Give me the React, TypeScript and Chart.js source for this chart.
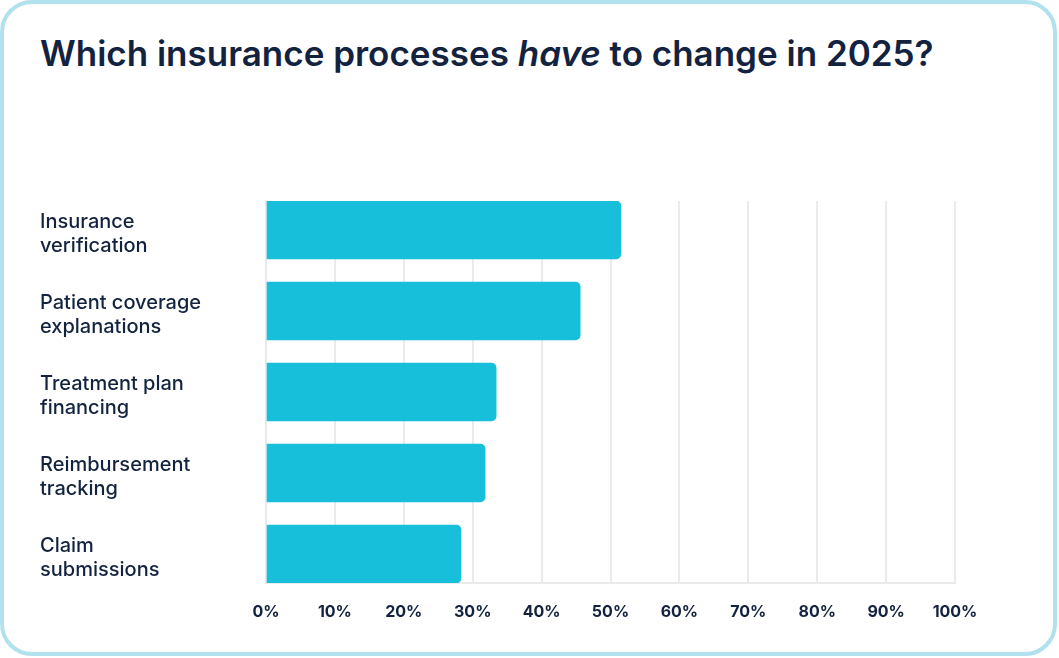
import React, { useEffect, useRef } from "react";
import { Chart, registerables } from "chart.js";

Chart.register(...registerables);

const categories = [
  "Insurance\nverification",
  "Patient coverage\nexplanations",
  "Treatment plan\nfinancing",
  "Reimbursement\ntracking",
  "Claim\nsubmissions",
];
const values = [51.5, 45.6, 33.4, 31.8, 28.3];
const xTickValues = [0, 10, 20, 30, 40, 50, 60, 70, 80, 90, 100];

const NAVY = "#13233f";
const GRID = "#ebebee";

export default function App() {
  const ref = useRef<HTMLCanvasElement>(null);

  useEffect(() => {
    document.body.style.margin = "0";
    const canvas = ref.current!;
    const chart = new Chart(canvas, {
      type: "bar",
      data: {
        datasets: [
          {
            data: values.map((v, i) => ({ x: v, y: i })),
            backgroundColor: "#17bfdb",
            borderRadius: 5,
            borderSkipped: "start",
            barThickness: 58,
          },
        ],
      },
      options: {
        indexAxis: "y",
        animation: false,
        responsive: false,
        maintainAspectRatio: false,
        layout: { padding: { top: 201, left: 40, right: 104, bottom: 35 } },
        plugins: { legend: { display: false }, tooltip: { enabled: false } },
        scales: {
          y: {
            type: "linear",
            reverse: true,
            offset: false,
            min: -0.358,
            max: 4.358,
            grid: { display: false, offset: false },
            border: { display: false },
            afterBuildTicks: (s: any) => {
              s.ticks = categories.map((_, i) => ({ value: i }));
            },
            ticks: {
              autoSkip: false,
              crossAlign: "far",
              padding: 0,
              labelOffset: 4,
              color: NAVY,
              font: { family: "Inter", size: 20, weight: "500", lineHeight: 1.18 },
              callback: (v: any) =>
                Number.isInteger(v) && categories[v] ? categories[v].split("\n") : "",
            },
            afterFit: (s: any) => {
              s.width = 226;
            },
          },
          x: {
            type: "linear",
            min: 0,
            max: 100,
            grid: { color: GRID, lineWidth: 2, drawTicks: false },
            border: { display: true, color: GRID, width: 2 },
            afterBuildTicks: (s: any) => {
              s.ticks = xTickValues.map((v) => ({ value: v }));
            },
            ticks: {
              padding: 20,
              color: NAVY,
              font: { family: "Inter", size: 16, weight: "700" },
              callback: (v: any) => v + "%",
            },
            afterFit: (s: any) => {
              s.height = 40;
            },
          },
        },
      },
    } as any);
    return () => chart.destroy();
  }, []);

  return (
    <div style={{ position: "fixed", left: 0, top: 0, width: 1059, height: 658, background: "#fff" }}>
      <div
        style={{
          position: "absolute",
          left: 0,
          top: 0,
          width: 1057,
          height: 656,
          boxSizing: "border-box",
          border: "4px solid #b0e1ed",
          borderRadius: 32,
          background: "#fff",
        }}
      />
      <div
        style={{
          position: "absolute",
          left: 40,
          top: 36,
          fontFamily: "Inter",
          fontWeight: 600,
          fontSize: 35,
          lineHeight: 1,
          color: NAVY,
          whiteSpace: "nowrap",
        }}
      >
        Which insurance processes <i>have</i> to change in 2025?
      </div>
      <canvas
        ref={ref}
        width={1059}
        height={658}
        style={{ position: "absolute", left: 0, top: 0, width: 1059, height: 658 }}
      />
    </div>
  );
}
